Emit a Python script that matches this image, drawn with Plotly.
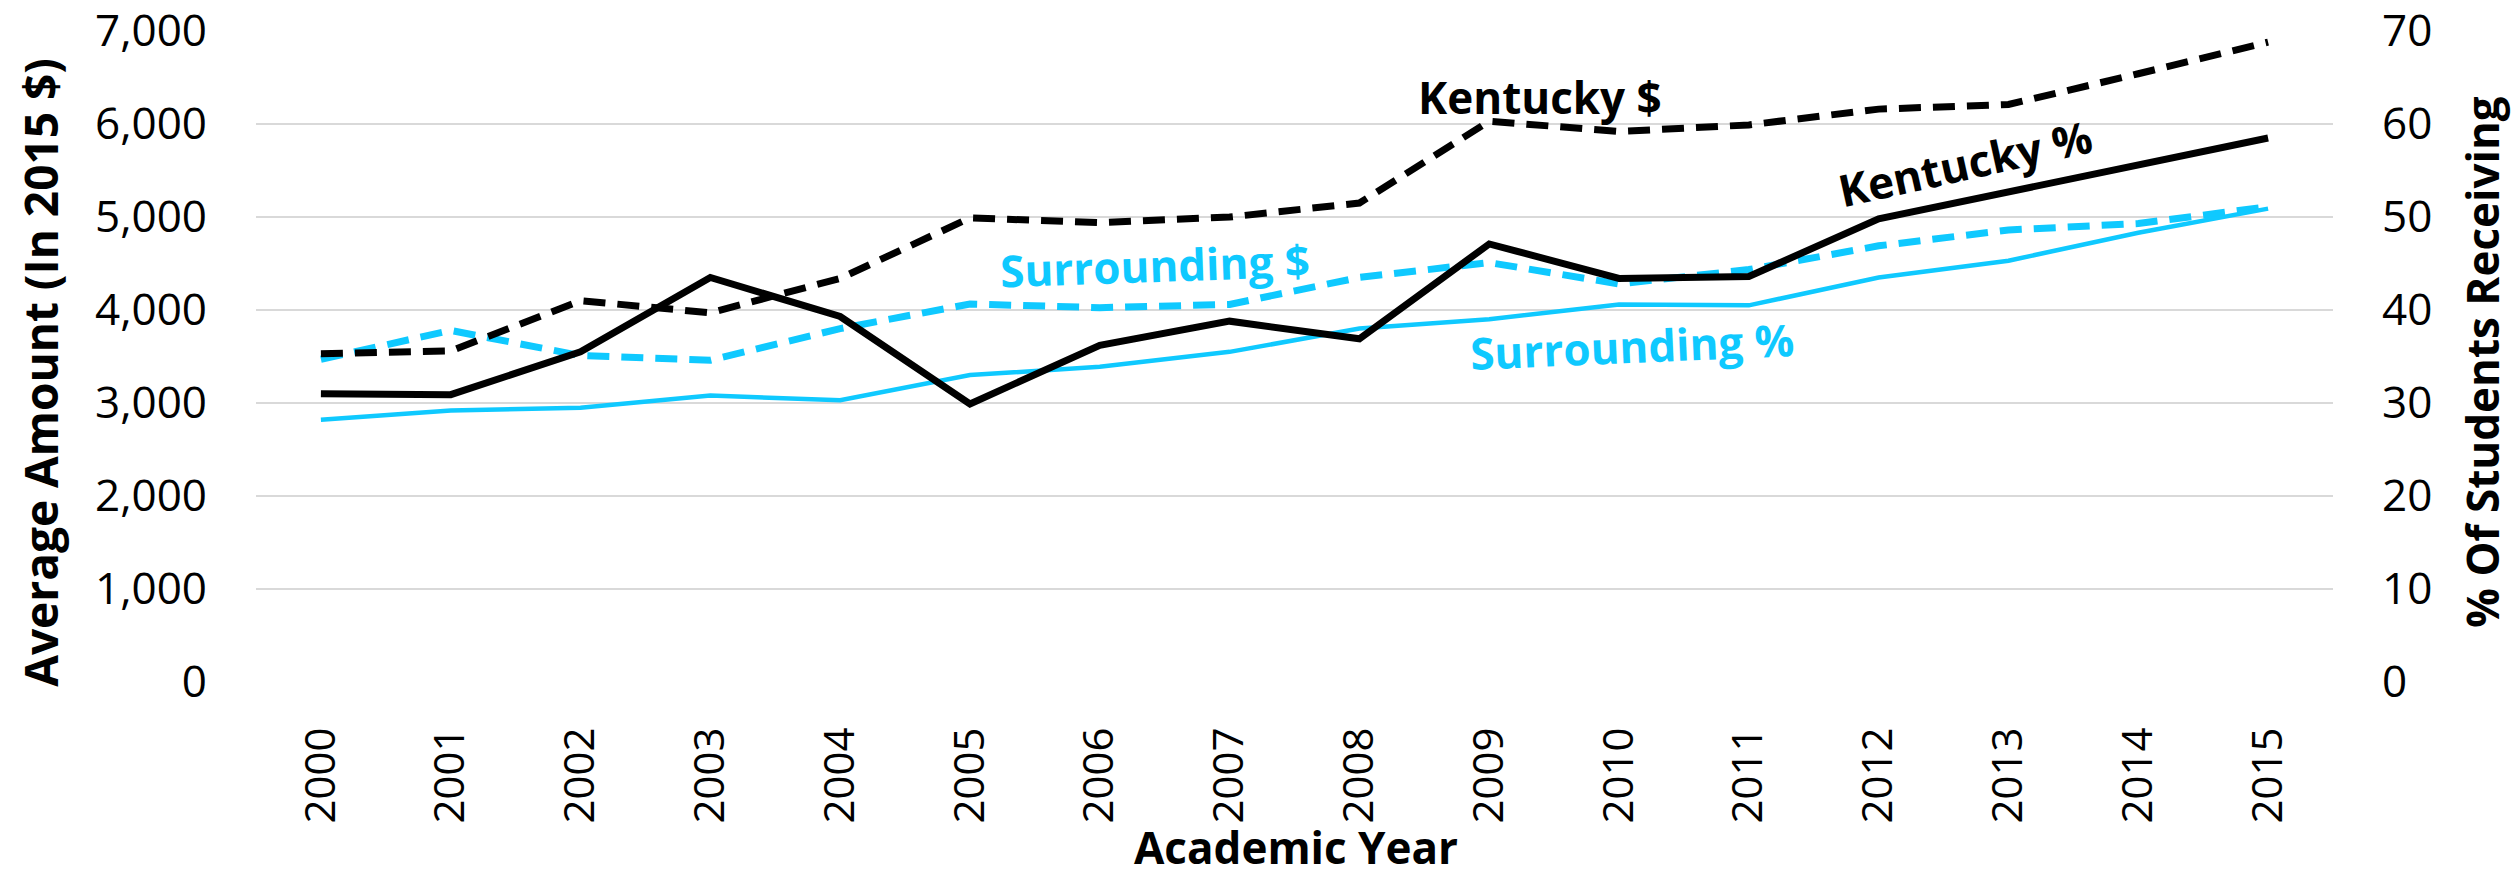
import plotly.graph_objects as go

years = [str(y) for y in range(2000, 2016)]
kentucky_dollars = [3530, 3560, 4100, 3970, 4340, 4990, 4940, 5000, 5150, 6030, 5920, 5990, 6160, 6210, 6540, 6880]
surrounding_dollars = [3470, 3780, 3510, 3460, 3800, 4065, 4025, 4060, 4350, 4510, 4280, 4435, 4690, 4860, 4930, 5110]
kentucky_pct = [31.0, 30.9, 35.5, 43.5, 39.3, 29.9, 36.2, 38.8, 36.9, 47.1, 43.4, 43.6, 49.8, 52.7, 55.5, 58.5]
surrounding_pct = [28.2, 29.2, 29.5, 30.8, 30.3, 33.0, 33.9, 35.5, 38.0, 39.0, 40.6, 40.5, 43.5, 45.3, 48.3, 50.9]

left_ticks = [0, 1000, 2000, 3000, 4000, 5000, 6000, 7000]
right_ticks = [0, 10, 20, 30, 40, 50, 60, 70]

BLACK = "#000000"
CYAN = "#0FC9FF"
FONT = "Open Sans"

fig = go.Figure()
fig.add_trace(go.Scatter(x=years, y=surrounding_pct, mode="lines", yaxis="y2",
                         line=dict(color=CYAN, width=4.5), name="Surrounding %"))
fig.add_trace(go.Scatter(x=years, y=surrounding_dollars, mode="lines", yaxis="y",
                         line=dict(color=CYAN, width=7, dash="22px,12px"), name="Surrounding $"))
fig.add_trace(go.Scatter(x=years, y=kentucky_dollars, mode="lines", yaxis="y",
                         line=dict(color=BLACK, width=7, dash="22px,12px"), name="Kentucky $"))
fig.add_trace(go.Scatter(x=years, y=kentucky_pct, mode="lines", yaxis="y2",
                         line=dict(color=BLACK, width=7), name="Kentucky %"))

annotations = [
    dict(text="<b>Kentucky $</b>", x=0.618, y=0.898, font=dict(color=BLACK, size=44, family=FONT)),
    dict(text="<b>Surrounding $</b>", x=0.433, y=0.641, textangle=-2, font=dict(color=CYAN, size=44, family=FONT)),
    dict(text="<b>Surrounding %</b>", x=0.6625, y=0.516, textangle=-2.5, font=dict(color=CYAN, size=44, family=FONT)),
    dict(text="<b>Kentucky %</b>", x=0.823, y=0.797, textangle=-12.5, font=dict(color=BLACK, size=44, family=FONT)),
    dict(text="<b>Average Amount (In 2015 $)</b>", x=-0.104, y=0.4765, textangle=-90,
         font=dict(color=BLACK, size=46, family=FONT)),
    dict(text="<b>% Of Students Receiving</b>", x=1.0717, y=0.492, textangle=-90,
         font=dict(color=BLACK, size=44, family=FONT)),
    dict(text="<b>Academic Year</b>", x=0.5007, y=-0.253,
         font=dict(color=BLACK, size=44, family=FONT)),
]
for a in annotations:
    a.update(xref="paper", yref="paper", showarrow=False, xanchor="center", yanchor="middle")

fig.update_layout(
    width=2514, height=876,
    margin=dict(l=256, r=181, t=31, b=194, autoexpand=False),
    paper_bgcolor="white", plot_bgcolor="white",
    showlegend=False,
    font=dict(family=FONT, color=BLACK, size=44),
    annotations=annotations,
    xaxis=dict(type="category", range=[-0.5, 15.5], showgrid=False, showline=False, zeroline=False,
               tickangle=-90, ticks="", ticklabelstandoff=36, automargin=False,
               tickfont=dict(size=42, family=FONT, color=BLACK)),
    yaxis=dict(range=[0, 7000], tickvals=left_ticks, tickformat=",", showgrid=True,
               gridcolor="#D9D9D9", gridwidth=2, zeroline=False, showline=False, ticks="",
               ticklabelstandoff=48, ticklabeloverflow="allow", automargin=False,
               tickfont=dict(size=44, family=FONT, color=BLACK)),
    yaxis2=dict(range=[0, 70], tickvals=right_ticks, overlaying="y", side="right", showgrid=False,
                zeroline=False, showline=False, ticks="", ticklabelstandoff=48,
                ticklabeloverflow="allow", automargin=False,
                tickfont=dict(size=44, family=FONT, color=BLACK)),
)

fig.write_html("out.html", config={"displayModeBar": False},
               post_script="document.body.style.margin='0';document.body.style.overflow='hidden';")
